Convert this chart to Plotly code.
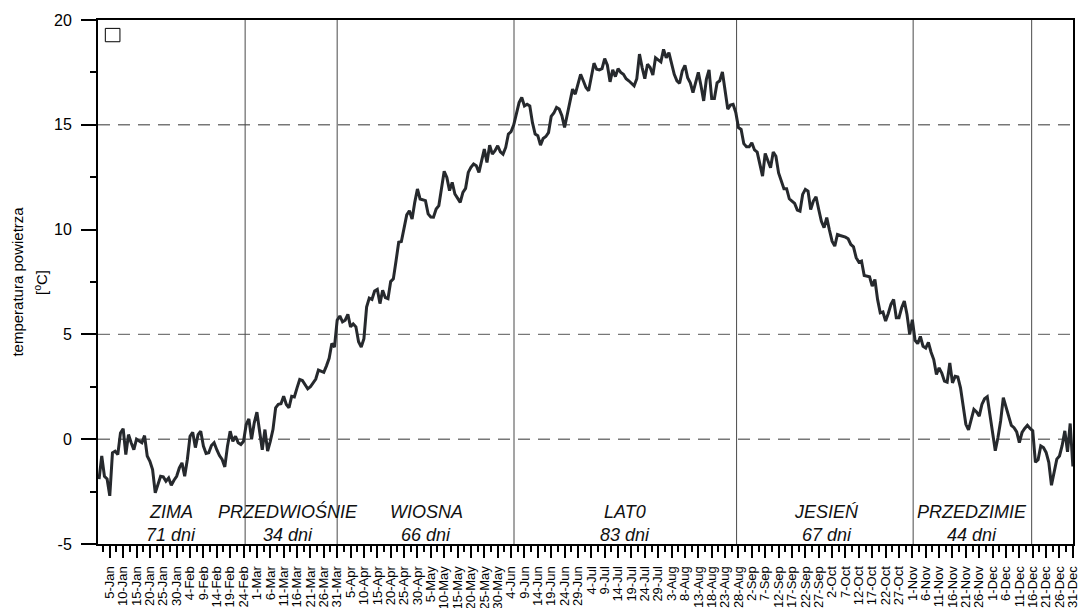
import plotly.graph_objects as go

# daily mean air temperature [deg C], one value per day (non-leap year)
jan = [-1.9, -0.8, -1.77, -1.9, -2.7, -0.65, -0.57, -0.73, 0.3, 0.5, -0.73, 0.22, -0.17, -0.5, 0.0, -0.1,
       -0.17, 0.17, -0.8, -1.05, -1.45, -2.56, -2.16, -1.77, -1.8, -2.0, -1.85, -2.2, -1.96, -1.77, -1.37]
feb = [-1.13, -1.77, -0.97, 0.14, 0.33, -0.4, 0.22, 0.38, -0.33, -0.68, -0.65, -0.3, -0.17, -0.5, -0.78,
       -0.97, -1.32, -0.33, 0.38, -0.1, 0.14, -0.17, -0.25, -0.1, 0.7, 0.97, 0.0, 0.78]
mar = [1.29, 0.38, -0.5, 0.46, -0.57, -0.1, 0.46, 1.5, 1.66, 1.69, 2.05, 1.66, 1.5, 2.05, 2.02, 2.45, 2.85,
       2.8, 2.6, 2.4, 2.5, 2.68, 2.87, 3.3, 3.23, 3.19, 3.5, 3.86, 4.57, 4.4, 5.68]
apr = [5.88, 5.6, 5.68, 5.96, 5.36, 5.5, 5.36, 4.65, 4.4, 4.8, 6.3, 6.73, 6.67, 7.07, 7.15, 6.47, 7.1, 6.75,
       6.7, 7.52, 7.65, 8.5, 9.4, 9.43, 10.13, 10.7, 10.9, 10.5, 11.3, 11.94]
may = [11.46, 11.41, 11.38, 10.75, 10.6, 10.59, 10.98, 11.14, 12.0, 12.78, 12.49, 11.86, 12.25, 11.7, 11.5,
       11.3, 11.78, 11.97, 12.73, 12.97, 13.13, 13.05, 12.73, 13.29, 13.84, 13.2, 14.03, 13.6, 13.76, 14.0, 13.71]
jun = [13.6, 13.92, 14.56, 14.67, 15.0, 15.6, 16.06, 16.3, 15.9, 15.98, 15.9, 15.1, 14.56, 14.48, 14.03,
       14.35, 14.44, 14.63, 15.4, 15.56, 15.83, 15.75, 15.43, 14.87, 15.5, 16.14, 16.7, 16.46, 16.94, 17.41]
jul = [17.1, 16.78, 16.62, 17.33, 17.94, 17.65, 17.62, 17.68, 18.16, 17.84, 17.05, 17.62, 17.3, 17.68, 17.5,
       17.41, 17.2, 17.1, 17.0, 16.86, 17.2, 18.37, 17.73, 17.2, 17.89, 17.73, 17.37, 18.2, 18.1, 18.0, 18.6]
aug = [18.2, 18.44, 17.84, 17.41, 17.1, 16.98, 17.57, 17.84, 17.25, 17.0, 16.54, 17.0, 17.5, 16.86, 16.14,
       17.17, 17.62, 16.25, 16.25, 17.0, 17.1, 17.52, 16.7, 15.75, 15.94, 15.98, 15.59, 14.87, 14.78, 14.1, 13.95]
sep = [13.95, 14.14, 13.8, 13.7, 13.1, 12.55, 13.63, 13.27, 12.95, 13.7, 13.5, 12.7, 12.3, 11.95, 11.95,
       11.47, 11.36, 11.25, 10.93, 10.88, 11.68, 11.92, 11.84, 10.96, 11.36, 11.57, 10.96, 10.4, 10.09, 10.57]
oct_ = [9.98, 9.45, 9.21, 9.77, 9.72, 9.68, 9.64, 9.56, 9.29, 9.18, 8.66, 8.45, 8.5, 7.81, 7.78, 7.75, 7.3,
        7.62, 6.67, 6.03, 6.07, 5.64, 6.0, 6.43, 6.67, 5.8, 5.8, 6.27, 6.59, 5.95, 5.0]
nov = [5.7, 4.72, 4.56, 4.9, 4.43, 4.35, 4.62, 4.15, 3.8, 3.09, 3.4, 3.16, 2.77, 2.72, 3.64, 2.69, 3.0, 2.97,
       2.45, 1.58, 0.71, 0.44, 0.98, 1.42, 1.3, 1.1, 1.66, 1.93, 2.03, 1.1]
dec = [0.16, -0.55, 0.08, 0.87, 1.98, 1.5, 1.03, 0.66, 0.55, 0.35, -0.16, 0.32, 0.51, 0.66, 0.51, 0.4, -1.1,
       -0.98, -0.32, -0.4, -0.63, -1.1, -2.2, -1.5, -0.95, -0.8, -0.3, 0.4, -0.6, 0.75, -1.3]

month_names = ["Jan", "Feb", "Mar", "Apr", "May", "Jun", "Jul", "Aug", "Sep", "Oct", "Nov", "Dec"]
month_lengths = [31, 28, 31, 30, 31, 30, 31, 31, 30, 31, 30, 31]

temps = jan + feb + mar + apr + may + jun + jul + aug + sep + oct_ + nov + dec
days = list(range(1, len(temps) + 1))

# tick labels every 5 days: "5-Jan", "10-Jan", ...
tick_days = list(range(5, 366, 5))
tick_labels = []
for d in tick_days:
    rem = d
    m = 0
    while rem > month_lengths[m]:
        rem -= month_lengths[m]
        m += 1
    tick_labels.append(f"{rem}-{month_names[m]}")
minor_days = [d - 2.5 for d in tick_days]
# pad one-digit days with a figure space so label starts line up at the bottom (as in the original)
tick_text = [("\u2007" + t) if t.index("-") == 1 else t for t in tick_labels]

# thermal seasons
season_names = ["ZIMA", "PRZEDWIOŚNIE", "WIOSNA", "LAT0", "JESIEŃ", "PRZEDZIMIE"]
season_days = [71, 34, 66, 83, 67, 44]
season_bounds = [55.6, 90.0, 156.1, 239.3, 305.3, 349.6]
season_label_x = [28.0, 71.7, 123.3, 197.5, 273.0, 327.3]
dashed_levels = [0, 5, 15]

FONT = "Arial, 'Liberation Sans', sans-serif"

fig = go.Figure()
fig.add_trace(go.Scatter(x=days, y=temps, mode="lines",
                         line=dict(color="#26292d", width=3), showlegend=False,
                         hoverinfo="x+y"))

shapes = []
for lv in dashed_levels:
    shapes.append(dict(type="line", xref="paper", x0=0, x1=1, yref="y", y0=lv, y1=lv,
                       line=dict(color="#777777", width=1.4, dash="12px,8px"), layer="below"))
for b in season_bounds:
    shapes.append(dict(type="line", xref="x", x0=b, x1=b, yref="paper", y0=0, y1=1,
                       line=dict(color="#4a4a4a", width=1), layer="below"))
# small empty legend box
shapes.append(dict(type="rect", xref="paper", yref="paper", x0=0.0075, x1=0.0225, y0=0.9585, y1=0.984,
                   line=dict(color="black", width=1), fillcolor="white"))

annotations = []
for name, n, xc in zip(season_names, season_days, season_label_x):
    annotations.append(dict(x=xc, y=-3.45, xref="x", yref="y", text=f"<i>{name}</i>", showarrow=False,
                            xanchor="center", yanchor="middle",
                            font=dict(family=FONT, size=18, color="#111111")))
    annotations.append(dict(x=xc, y=-4.55, xref="x", yref="y", text=f"<i>{n} dni</i>", showarrow=False,
                            xanchor="center", yanchor="middle",
                            font=dict(family=FONT, size=18, color="#111111")))

annotations.append(dict(x=-0.0835, y=0.5, xref="paper", yref="paper", text="temperatura powietrza",
                        textangle=-90, showarrow=False, xanchor="center", yanchor="middle",
                        font=dict(family=FONT, size=15, color="black")))
annotations.append(dict(x=-0.0595, y=0.5, xref="paper", yref="paper", text="[<sup>o</sup>C]",
                        textangle=-90, showarrow=False, xanchor="center", yanchor="middle",
                        font=dict(family=FONT, size=15, color="black")))

fig.update_layout(
    width=1087, height=617,
    margin=dict(l=98, r=7, t=20, b=65),
    paper_bgcolor="white", plot_bgcolor="white",
    font=dict(family=FONT, color="black"),
    shapes=shapes, annotations=annotations,
    showlegend=False,
)
fig.update_xaxes(
    range=[0.6, 365.05], showgrid=False, zeroline=False,
    showline=True, linecolor="black", linewidth=2, mirror=True,
    tickmode="array", tickvals=tick_days, ticktext=tick_text,
    ticks="outside", ticklen=12, tickwidth=1.5, tickcolor="black",
    tickangle=-90, tickfont=dict(size=13, family=FONT, color="black"),
    ticklabelstandoff=3,
    minor=dict(tickmode="array", tickvals=minor_days, ticks="outside", ticklen=6,
               tickwidth=1.5, tickcolor="black", showgrid=False),
)
fig.update_yaxes(
    range=[-5, 20], showgrid=False, zeroline=False,
    showline=True, linecolor="black", linewidth=2, mirror=True,
    tickmode="array", tickvals=[-5, 0, 5, 10, 15, 20], ticktext=["-5", "0", "5", "10", "15", "20"],
    ticks="outside", ticklen=15, tickwidth=1.5, tickcolor="black",
    tickfont=dict(size=16, family=FONT, color="black"),
    ticklabelstandoff=6,
    minor=dict(tickmode="array", tickvals=[-2.5, 2.5, 7.5, 12.5, 17.5], ticks="outside", ticklen=6,
               tickwidth=1.5, tickcolor="black", showgrid=False),
)

# remove the page's default 8px body margin so the figure starts at the window corner
fig.write_html("out.html", config={"displayModeBar": False},
               post_script="document.body.style.margin='0px';document.body.style.overflow='hidden';")
